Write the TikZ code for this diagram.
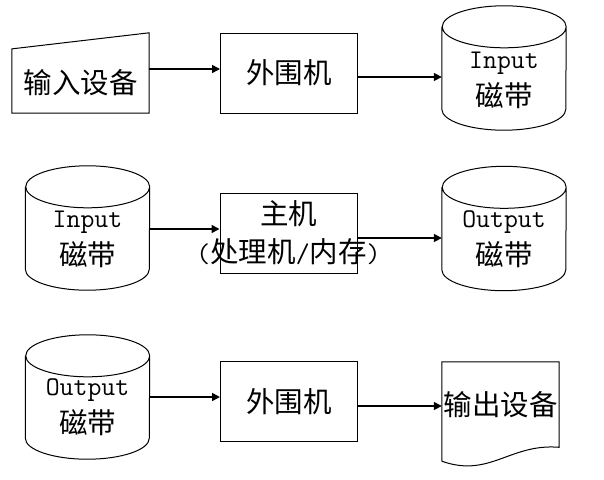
\documentclass[tikz,border=0pt]{standalone}
\usepackage{fontspec}
\usepackage{tikz}
\usetikzlibrary{arrows.meta,calc}
\newfontfamily\cjk{Noto Sans CJK SC}
\newcommand{\en}[1]{{\ttfamily\fontsize{27}{38}\selectfont #1}}
\tikzstyle{box}=[rectangle, draw, line width=1pt, minimum width=137pt, minimum height=80pt, inner sep=0pt, align=center, font=\cjk\fontsize{28.5}{38}\selectfont]
\tikzstyle{tape}=[rectangle, minimum width=124pt, minimum height=124pt, inner sep=0pt]
\tikzstyle{frame}=[rectangle, inner sep=0pt]
\tikzstyle{txt}=[align=center, inner sep=0pt, font=\cjk\fontsize{28.5}{38}\selectfont]
\tikzstyle{flow}=[-{Triangle[length=8pt,width=8pt]}, line width=1.6pt]

\begin{document}
\begin{tikzpicture}[x=1pt, y=-1pt]
    \useasboundingbox (0,0) rectangle (604,479);
    % row 1
    \node[frame, minimum width=137pt, minimum height=80pt] (in) at (80.5,73) {};
    \draw[line width=1pt] (in.south west) -- ($(in.north west)!0.2!(in.south west)$) -- (in.north east) -- (in.south east) -- cycle;
    \node[txt] (intxt) at ([yshift=-10pt]in.center) {输入设备};
    \node[box] (per1) at (289,73) {外围机};
    \node[tape] (tape1) at (504,68) {};
    \node[txt] (tape1txt) at ([yshift=-12pt]tape1.center) {\en{Input}\\磁带};
    \draw[flow] ([yshift=4pt]in.east) -- ([yshift=4pt]in.east -| per1.west);
    \draw[flow] ([yshift=-4pt]per1.east) -- ([yshift=-4pt]per1.east -| tape1.west);
    % row 2
    \node[tape] (tape2) at (87.5,228) {};
    \node[txt] (tape2txt) at ([yshift=-11pt]tape2.center) {\en{Input}\\磁带};
    \node[box] (cpu) at (288.5,233) {主机\\\makebox[0pt]{\en{(}处理机\en{/}内存\en{)}}};
    \node[tape] (tape3) at (504,228.5) {};
    \node[txt] (tape3txt) at ([yshift=-10.5pt]tape3.center) {\en{Output}\\磁带};
    \draw[flow] ([yshift=-1pt]tape2.east) -- ([yshift=-1pt]tape2.east -| cpu.west);
    \draw[flow] ([yshift=-5pt]cpu.east) -- ([yshift=-5pt]cpu.east -| tape3.west);
    % row 3
    \node[tape] (tape4) at (87.5,397) {};
    \node[txt] (tape4txt) at ([yshift=-10.5pt]tape4.center) {\en{Output}\\磁带};
    \node[box] (per2) at (289,401.5) {外围机};
    \node[frame, minimum width=117pt, minimum height=99pt] (doc) at (500.5,411.5) {};
    \draw[line width=1pt] (doc.south west) -- (doc.north west) -- (doc.north east) -- ($(doc.north east)!0.86!(doc.south east)$) .. controls ($(doc.south west)+(68,-18)$) and ($(doc.south west)+(48,17)$) .. (doc.south west);
    \node[txt] (doctxt) at ([yshift=6.5pt]doc.center) {输出设备};
    \draw[flow] (tape4.east) -- (tape4.east -| per2.west);
    \draw[flow] ([yshift=-4.5pt]per2.east) -- ([yshift=-4.5pt]per2.east -| doc.west);
    % cylinders
    \foreach \t in {tape1,tape2,tape3,tape4}
        \draw[line width=1pt] ([yshift=-21pt]\t.north west) -- ([yshift=21pt]\t.south west)
            arc[start angle=180, end angle=360, x radius=62pt, y radius=21pt]
            -- ([yshift=-21pt]\t.north east)
            arc[start angle=0, end angle=360, x radius=62pt, y radius=21pt];
\end{tikzpicture}
\end{document}
